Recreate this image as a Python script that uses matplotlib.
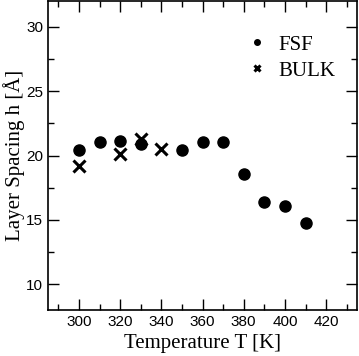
import matplotlib
matplotlib.use("Agg")
import matplotlib.pyplot as plt
from matplotlib.ticker import MultipleLocator

fsf_T = [300, 310, 320, 330, 350, 360, 370, 380, 390, 400, 410]
fsf_h = [20.45, 21.05, 21.1, 20.9, 20.45, 21.05, 21.05, 18.55, 16.4, 16.05, 14.75]
bulk_T = [300, 320, 330, 340]
bulk_h = [19.2, 20.1, 21.3, 20.5]

fig = plt.figure(figsize=(3.59, 3.56), dpi=100)
ax = fig.add_axes([48/359, 1 - 310/356, (357-48)/359, (310-1)/356])

ax.plot(fsf_T, fsf_h, 'o', color='black', markersize=8, label='FSF', linestyle='none')
ax.plot(bulk_T, bulk_h, 'x', color='black', markersize=8, markeredgewidth=2.2, label='BULK', linestyle='none')

ax.set_xlim(285, 435)
ax.set_ylim(8, 32)
ax.xaxis.set_major_locator(MultipleLocator(20))
ax.xaxis.set_minor_locator(MultipleLocator(10))
ax.yaxis.set_major_locator(MultipleLocator(5))
ax.yaxis.set_minor_locator(MultipleLocator(2.5))
ax.tick_params(which='both', direction='in', top=True, right=True, labelsize=11, width=1)
ax.tick_params(which='major', length=8)
ax.tick_params(which='minor', length=4)
for lab in ax.get_xticklabels() + ax.get_yticklabels():
    lab.set_family('Liberation Sans')
for s in ax.spines.values():
    s.set_linewidth(1.2)

ax.set_xlabel('Temperature T [K]', family='Liberation Serif', fontsize=15, labelpad=4)
ax.set_ylabel('Layer Spacing h [Å]', family='Liberation Serif', fontsize=15, labelpad=1)

leg = ax.legend(loc='upper right', bbox_to_anchor=(0.99, 0.95), frameon=False,
                prop={'family': 'Liberation Serif', 'size': 15}, markerscale=0.5,
                handlelength=0.6, handletextpad=0.7, labelspacing=0.3)

fig.savefig('out.png', dpi=100)
